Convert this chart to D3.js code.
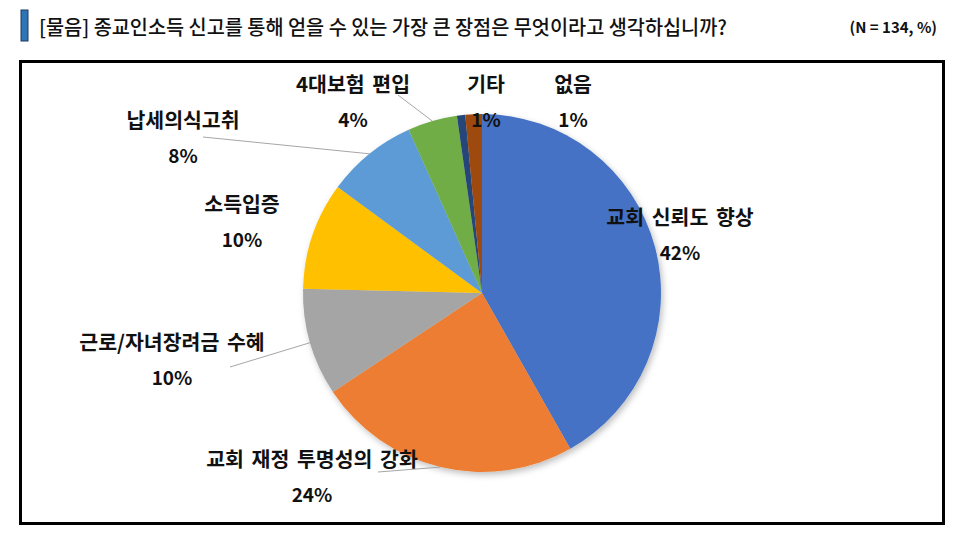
<!DOCTYPE html>
<html>
<head>
<meta charset="utf-8">
<script src="https://cdn.jsdelivr.net/npm/d3@7"></script>
<style>
  body { margin: 0; background: #fff; }
  svg { display: block; font-family: "Noto Sans CJK KR", "Noto Sans", sans-serif; }
</style>
</head>
<body>
<script>
// data
const total = 134;
const categories = ['교회 신뢰도 향상', '교회 재정 투명성의 강화', '근로/자녀장려금 수혜', '소득입증',
  '납세의식고취', '4대보험 편입', '기타', '없음'];
const counts = [56, 32, 13, 13, 11, 6, 1, 2];
const colors = ['#4472C4', '#ED7D31', '#A5A5A5', '#FFC000', '#5B9BD5', '#70AD47', '#264478', '#9E480E'];

// layout: label block centres relative to pie centre, leader start points (null = no leader)
const labelOffset = [[198, -58], [-170, 184], [-310, 67], [-240, -71], [-299, -155], [-129, -191], [4, -191], [91, -191]];
const leaderFrom = [null, [-104, 179], [-252, 74], null, [-279, -156], [-84, -198], null, null];

const width = 970, height = 546;
const cx = 482, cy = 293, radius = 179;

const svg = d3.select('body').append('svg')
  .attr('width', width)
  .attr('height', height);

// title
svg.append('rect')
  .attr('x', 21).attr('y', 10).attr('width', 7).attr('height', 31)
  .attr('fill', '#2E75B6').attr('stroke', '#1F3864').attr('stroke-width', 1);

svg.append('text')
  .attr('x', 39).attr('y', 35)
  .attr('font-size', 20)
  .attr('font-weight', 500)
  .attr('fill', '#111')
  .attr('textLength', 688)
  .attr('lengthAdjust', 'spacingAndGlyphs')
  .text('[물음] 종교인소득 신고를 통해 얻을 수 있는 가장 큰 장점은 무엇이라고 생각하십니까?');

svg.append('text')
  .attr('x', 937).attr('y', 33)
  .attr('text-anchor', 'end')
  .attr('font-size', 15)
  .attr('font-weight', 'bold')
  .attr('fill', '#111')
  .text('(N = ' + total + ', %)');

// frame
svg.append('rect')
  .attr('x', 20.5).attr('y', 61.5).attr('width', 923).attr('height', 462)
  .attr('fill', 'none').attr('stroke', '#000').attr('stroke-width', 3);

// shadow
const defs = svg.append('defs');
defs.append('filter').attr('id', 'shadow')
  .attr('x', '-10%').attr('y', '-10%').attr('width', '120%').attr('height', '120%')
  .append('feDropShadow')
  .attr('dx', 2).attr('dy', 3).attr('stdDeviation', 3)
  .attr('flood-color', '#000').attr('flood-opacity', 0.25);

const pie = d3.pie().sort(null).value(d => d);
const arcs = pie(counts);
const arc = d3.arc().innerRadius(0).outerRadius(radius);
const edgeArc = d3.arc().innerRadius(radius).outerRadius(radius);

const g = svg.append('g').attr('transform', `translate(${cx},${cy})`);

const slices = g.append('g').attr('filter', 'url(#shadow)');
slices.selectAll('path')
  .data(arcs)
  .join('path')
  .attr('d', arc)
  .attr('fill', (d, i) => colors[i]);

// leader lines
g.selectAll('.leader')
  .data(arcs.filter((d, i) => leaderFrom[i]))
  .join('path')
  .attr('class', 'leader')
  .attr('fill', 'none')
  .attr('stroke', '#A6A6A6')
  .attr('stroke-width', 1)
  .attr('d', d => {
    const from = leaderFrom[d.index];
    const to = edgeArc.centroid(d);
    return d3.line()([from, to]);
  });

// labels
const labels = g.selectAll('.label')
  .data(arcs)
  .join('g')
  .attr('class', 'label')
  .attr('transform', d => `translate(${labelOffset[d.index][0]},${labelOffset[d.index][1]})`);

labels.append('text')
  .attr('y', -10)
  .attr('text-anchor', 'middle')
  .attr('font-size', 20.5)
  .attr('font-weight', 'bold')
  .attr('fill', '#111')
  .attr('word-spacing', 3)
  .text(d => categories[d.index]);

labels.append('text')
  .attr('y', 25)
  .attr('text-anchor', 'middle')
  .attr('font-size', 19)
  .attr('font-weight', 'bold')
  .attr('fill', '#111')
  .text(d => Math.round(d.data / total * 100) + '%');
</script>
</body>
</html>
